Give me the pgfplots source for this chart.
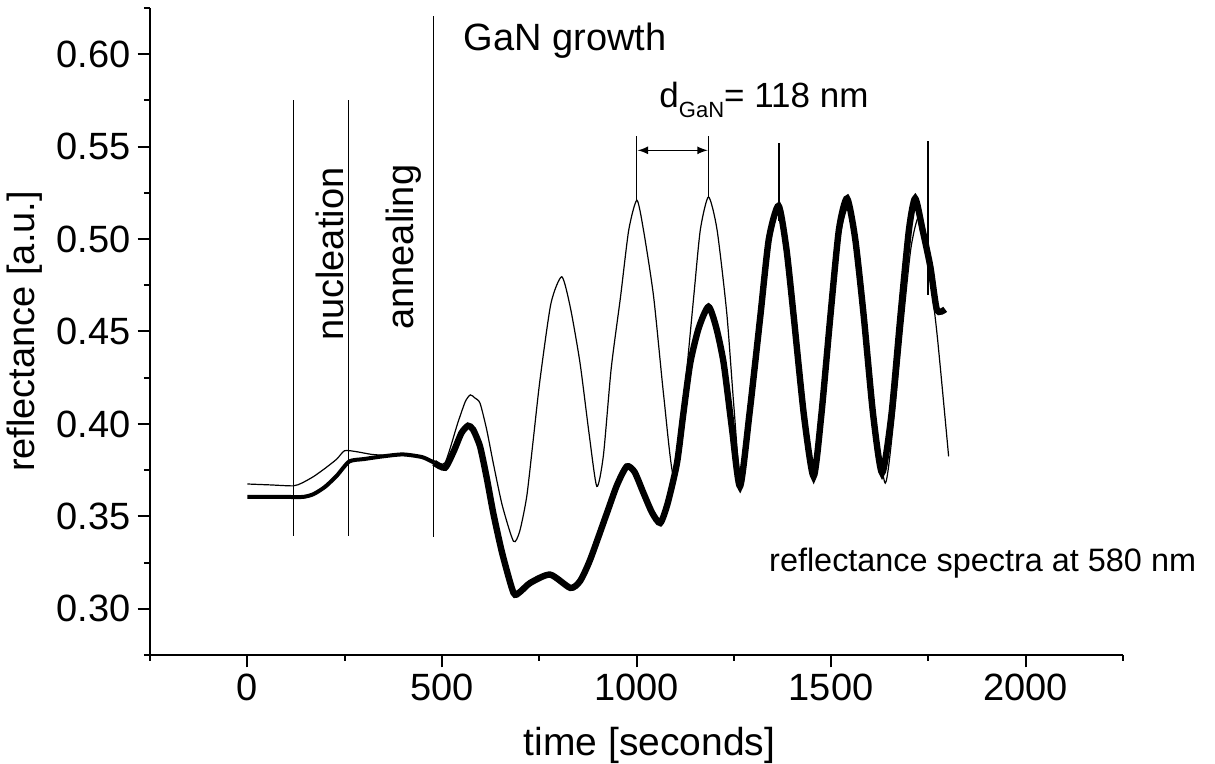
\documentclass[border=0pt]{standalone}
\usepackage{fontspec}
\setmainfont{Liberation Sans}
\usepackage{pgfplots}
\pgfplotsset{compat=1.18}
\begin{document}
\begin{tikzpicture}[font=\fontsize{19}{23}\selectfont]
\useasboundingbox (-75pt,-54.5pt) rectangle (532.5pt,327.5pt);
\begin{axis}[
  scale only axis, width=486.5pt, height=323.5pt,
  at={(0pt,0pt)}, anchor=south west,
  xmin=-250, xmax=2250, ymin=0.275, ymax=0.625,
  axis x line*=bottom, axis y line*=left,
  axis line style={line width=1pt, black},
  xtick={0,500,1000,1500,2000},
  minor xtick={-250,250,750,1250,1750,2250},
  ytick={0.30,0.35,0.40,0.45,0.50,0.55,0.60},
  minor ytick={0.275,0.325,0.375,0.425,0.475,0.525,0.575,0.625},
  tick align=outside,
  major tick length=6.2pt, minor tick length=3pt,
  every tick/.style={black, line width=1pt},
  x tick label style={/pgf/number format/.cd, 1000 sep={}, assume math mode=true},
  y tick label style={/pgf/number format/.cd, fixed, fixed zerofill, precision=2, assume math mode=true},
  xlabel={time [seconds]},
  xlabel style={font=\fontsize{19.5}{23}\selectfont, xshift=6.5pt, yshift=-6pt},
  ylabel={reflectance [a.u.]},
  clip=false,
]
% thin series
\addplot[black, line width=0.6pt, smooth, tension=0.4] coordinates {
(0,0.3675) (60,0.367) (118,0.3665) (140,0.368) (170,0.3715) (200,0.376) (230,0.381) (250,0.3855)
(280,0.385) (320,0.3835) (360,0.383) (400,0.383) (450,0.382) (480,0.380) (508,0.379)
(540,0.400) (560,0.412) (573,0.4157) (585,0.414) (598,0.4112) (615,0.397) (632,0.3788)
(655,0.356) (684,0.3365) (700,0.342) (718,0.3608) (735,0.392) (752,0.4238) (780,0.465)
(808,0.4796) (830,0.463) (855,0.4328) (878,0.395) (898,0.3662) (915,0.383) (935,0.430)
(959,0.4688) (980,0.5048) (1001,0.521) (1018,0.5048) (1044,0.4688) (1070,0.415) (1095,0.372)
(1120,0.410) (1147,0.4688) (1164,0.505) (1185,0.5228) (1207,0.505) (1232,0.4598) (1250,0.41)
(1268,0.368) (1290,0.405) (1320,0.458) (1342,0.500) (1365,0.515) (1388,0.495) (1406,0.458)
(1432,0.405) (1457,0.370) (1478,0.405) (1502,0.458) (1522,0.500) (1543,0.517) (1565,0.498)
(1588,0.458) (1612,0.405) (1639,0.368) (1660,0.400) (1685,0.455) (1705,0.495) (1725,0.512)
(1745,0.495) (1772,0.449) (1802,0.3824)
};
% thick series, early part
\addplot[black, line width=2pt, smooth, tension=0.4] coordinates {
(0,0.3605) (50,0.3605) (100,0.3605) (143,0.3605) (170,0.362) (200,0.366) (230,0.372) (262,0.3797)
(300,0.381) (350,0.3825) (400,0.3835) (450,0.382) (480,0.379)
};
% thick series, growth
\addplot[black, line width=3.2pt, smooth, tension=0.4] coordinates {
(480,0.379) (508,0.3763) (530,0.385) (550,0.395) (567,0.399) (580,0.397) (598,0.3878) (615,0.371)
(632,0.3518) (655,0.33) (684,0.3086) (700,0.309) (727,0.314) (778,0.3185) (830,0.3113) (855,0.315)
(881,0.3266) (924,0.3518) (950,0.367) (975,0.377) (995,0.374) (1018,0.3626) (1040,0.352)
(1061,0.3464) (1080,0.357) (1104,0.3788) (1120,0.405) (1138,0.4328) (1160,0.452) (1185,0.4634)
(1205,0.452) (1224,0.4328) (1245,0.398) (1266,0.3662) (1290,0.405) (1318,0.458) (1340,0.500)
(1365,0.518) (1385,0.495) (1404,0.458) (1430,0.405) (1455,0.3716) (1475,0.405) (1498,0.458)
(1520,0.505) (1541,0.522) (1562,0.500) (1584,0.458) (1608,0.405) (1631,0.3735) (1655,0.405)
(1678,0.458) (1700,0.505) (1716,0.522) (1735,0.505) (1755,0.485) (1772,0.4616) (1793,0.462)
};
% spikes in the measured trace
\addplot[black, line width=1pt] coordinates {(1365,0.51) (1365,0.552)};
\addplot[black, line width=1pt] coordinates {(1748,0.47) (1748,0.553)};
% phase markers
\addplot[black, line width=0.5pt] coordinates {(118,0.3396) (118,0.5754)};
\addplot[black, line width=0.5pt] coordinates {(261,0.3396) (261,0.5754)};
\addplot[black, line width=0.5pt] coordinates {(479,0.339) (479,0.6205)};
% period markers
\addplot[black, line width=0.5pt] coordinates {(1001,0.521) (1001,0.556)};
\addplot[black, line width=0.5pt] coordinates {(1185,0.5228) (1185,0.556)};
\addplot[black, line width=0.8pt, <->, >=latex] coordinates {(1003,0.548) (1183,0.548)};
\node[rotate=90] at (axis cs:213,0.4918) {nucleation};
\node[rotate=90] at (axis cs:403,0.4956) {annealing};
\node[anchor=base west, inner sep=0pt] at (axis cs:555,0.602) {GaN growth};
\node[anchor=base west, inner sep=0pt, font=\fontsize{17.5}{21}\selectfont] at (axis cs:1058,0.5714) {d\raisebox{-5pt}{\fontsize{11}{13}\selectfont GaN}= 118 nm};
\node[anchor=base west, inner sep=0pt, font=\fontsize{16.2}{19}\selectfont] at (axis cs:1340,0.3203) {reflectance spectra at 580 nm};
\end{axis}
\end{tikzpicture}
\end{document}
